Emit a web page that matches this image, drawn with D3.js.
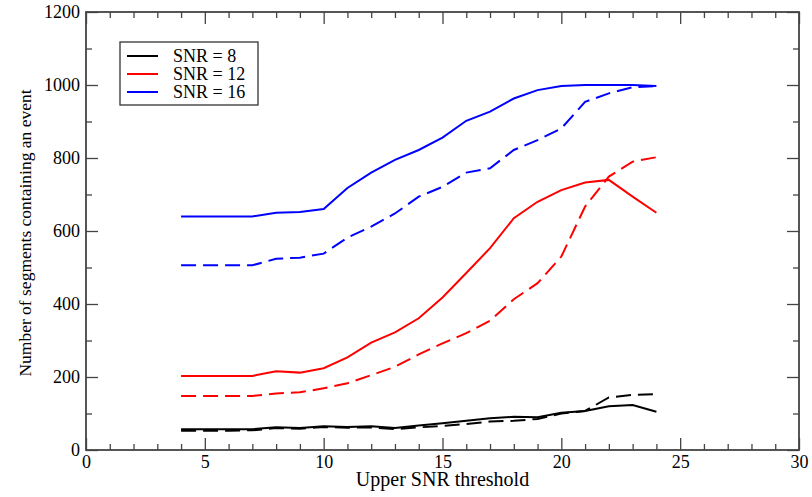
<!DOCTYPE html>
<html lang="en">
<head>
  <meta charset="utf-8">
  <title>Segments vs upper SNR threshold</title>
  <script src="https://cdn.jsdelivr.net/npm/d3@7"></script>
  <style>
    body { margin: 0; background: #fff; }
    text { font-family: "Liberation Serif", "DejaVu Serif", serif; }
  </style>
</head>
<body>
  <svg width="812" height="497" id="mainsvg"></svg>
  <script>
    // data
    const thresholds = [4, 5, 6, 7, 8, 9, 10, 11, 12, 13, 14, 15, 16, 17, 18, 19, 20, 21, 22, 23, 24];
    const snr8Solid  = [57, 57, 57, 57, 62, 60, 65, 63, 65, 60, 67, 73, 80, 87, 91, 90, 102, 107, 120, 123, 105];
    const snr8Dash   = [53, 53, 53, 54, 60, 58, 63, 61, 62, 57, 62, 66, 71, 78, 80, 85, 100, 107, 144, 151, 153];
    const snr12Solid = [203, 203, 203, 203, 216, 212, 224, 254, 294, 322, 361, 418, 485, 553, 635, 680, 712, 733, 740, 694, 650];
    const snr12Dash  = [148, 148, 148, 148, 155, 158, 169, 183, 205, 228, 262, 292, 320, 354, 413, 457, 530, 667, 749, 790, 802];
    const snr16Solid = [640, 640, 640, 640, 650, 652, 660, 718, 760, 795, 822, 856, 902, 927, 963, 986, 997, 1000, 1000, 1000, 997];
    const snr16Dash  = [506, 506, 506, 506, 524, 527, 538, 582, 612, 648, 694, 721, 760, 772, 822, 849, 881, 954, 977, 994, 997];
    const legendNames = ['SNR = 8', 'SNR = 12', 'SNR = 16'];
    const legendColors = ['#000000', '#ff0000', '#0000ff'];
    const xTicks = [0, 5, 10, 15, 20, 25, 30];
    const yTicks = [0, 200, 400, 600, 800, 1000, 1200];

    const series = [
      { values: snr8Solid, color: '#000000', dashed: false },
      { values: snr8Dash, color: '#000000', dashed: true },
      { values: snr12Solid, color: '#ff0000', dashed: false },
      { values: snr12Dash, color: '#ff0000', dashed: true },
      { values: snr16Solid, color: '#0000ff', dashed: false },
      { values: snr16Dash, color: '#0000ff', dashed: true }
    ];

    const svg = d3.select('#mainsvg');
    const margin = { top: 12, right: 13, bottom: 47, left: 86 };
    const innerWidth = 812 - margin.left - margin.right;
    const innerHeight = 497 - margin.top - margin.bottom;

    const xScale = d3.scaleLinear().domain([0, 30]).range([0, innerWidth]);
    const yScale = d3.scaleLinear().domain([0, 1200]).range([innerHeight, 0]);

    const g = svg.append('g')
      .attr('transform', `translate(${margin.left}, ${margin.top})`);

    const axisColor = '#444';
    const styleAxis = sel => {
      sel.selectAll('.domain').remove();
      sel.selectAll('line').attr('stroke', axisColor).attr('stroke-width', 1.3);
      sel.selectAll('text').attr('font-size', 18).attr('fill', '#000')
        .attr('font-family', '"Liberation Serif", serif');
    };
    const noLabels = sel => {
      sel.selectAll('.domain').remove();
      sel.selectAll('text').remove();
      sel.selectAll('line').attr('stroke', axisColor).attr('stroke-width', 1.3);
    };

    // minor ticks (inward, all sides)
    const minorX = d3.range(0, 31, 1).filter(d => d % 5 !== 0);
    const minorY = d3.range(0, 1201, 100).filter(d => d % 200 !== 0);
    g.append('g').attr('transform', `translate(0, ${innerHeight})`)
      .call(d3.axisBottom(xScale).tickValues(minorX).tickSize(-6)).call(noLabels);
    g.append('g')
      .call(d3.axisTop(xScale).tickValues(minorX).tickSize(-6)).call(noLabels);
    g.append('g')
      .call(d3.axisLeft(yScale).tickValues(minorY).tickSize(-6)).call(noLabels);
    g.append('g').attr('transform', `translate(${innerWidth}, 0)`)
      .call(d3.axisRight(yScale).tickValues(minorY).tickSize(-6)).call(noLabels);

    // major ticks
    g.append('g').attr('transform', `translate(0, ${innerHeight})`)
      .call(d3.axisBottom(xScale).tickValues(xTicks).tickSizeInner(-12).tickSizeOuter(0).tickPadding(5).tickFormat(d3.format('d')))
      .call(styleAxis);
    g.append('g')
      .call(d3.axisTop(xScale).tickValues(xTicks).tickSize(-12)).call(noLabels);
    g.append('g')
      .call(d3.axisLeft(yScale).tickValues(yTicks).tickSizeInner(-12).tickSizeOuter(0).tickPadding(6).tickFormat(d3.format('d')))
      .call(styleAxis);
    g.append('g').attr('transform', `translate(${innerWidth}, 0)`)
      .call(d3.axisRight(yScale).tickValues(yTicks).tickSize(-12)).call(noLabels);

    // frame
    g.append('rect')
      .attr('width', innerWidth).attr('height', innerHeight)
      .attr('fill', 'none').attr('stroke', axisColor).attr('stroke-width', 1.8);

    // curves
    const line = d3.line()
      .x((d, i) => xScale(thresholds[i]))
      .y(d => yScale(d));
    g.selectAll('.curve').data(series).enter().append('path')
      .attr('class', 'curve')
      .attr('d', d => line(d.values))
      .attr('fill', 'none')
      .attr('stroke', d => d.color)
      .attr('stroke-width', 2)
      .attr('stroke-dasharray', d => d.dashed ? '15,7' : null);

    // axis labels
    g.append('text').text('Upper SNR threshold')
      .attr('x', innerWidth / 2).attr('y', innerHeight + 36)
      .attr('text-anchor', 'middle').attr('font-size', 20);
    g.append('text').text('Number of segments containing an event')
      .attr('transform', `translate(-55, 221) rotate(-90)`)
      .attr('text-anchor', 'middle').attr('font-size', 17.5);

    // legend
    const legend = svg.append('g').attr('transform', 'translate(120, 42)');
    legend.append('rect')
      .attr('width', 138).attr('height', 63)
      .attr('fill', '#fff').attr('stroke', '#333').attr('stroke-width', 1.3);
    const items = legend.selectAll('.legend').data(legendNames).enter().append('g')
      .attr('class', 'legend')
      .attr('transform', (d, i) => `translate(0, ${14 + i * 18})`);
    items.append('line')
      .attr('x1', 7).attr('x2', 38).attr('y1', 0).attr('y2', 0)
      .attr('stroke', (d, i) => legendColors[i]).attr('stroke-width', 2);
    items.append('text')
      .attr('x', 53).attr('y', 6)
      .attr('font-size', 18)
      .text(d => d);
  </script>
</body>
</html>
